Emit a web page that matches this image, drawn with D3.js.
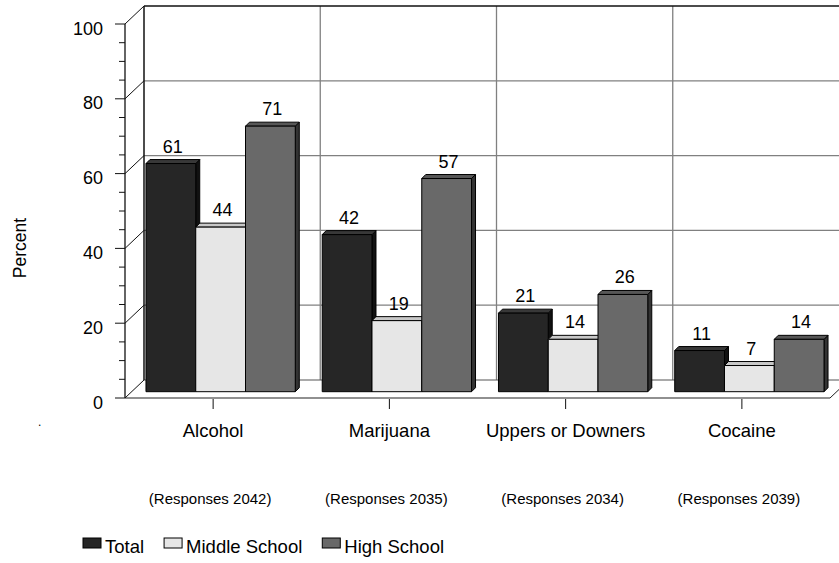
<!DOCTYPE html>
<html>
<head>
<meta charset="utf-8">
<script src="https://cdn.jsdelivr.net/npm/d3@7/dist/d3.min.js"></script>
<style>
  html, body { margin: 0; padding: 0; background: #fff; }
  svg { display: block; font-family: "Liberation Sans", Arial, sans-serif; }
</style>
</head>
<body>
<svg id="chart" width="839" height="563"></svg>
<script>
// Substance use by school level (percent)
const categories = ["Alcohol", "Marijuana", "Uppers or Downers", "Cocaine"];
const responses = ["(Responses 2042)", "(Responses 2035)", "(Responses 2034)", "(Responses 2039)"];
const seriesNames = ["Total", "Middle School", "High School"];
const totalValues = [61, 42, 21, 11];
const middleValues = [44, 19, 14, 7];
const highValues = [71, 57, 26, 14];
const yTicks = [0, 20, 40, 60, 80, 100];

const series = [
  { name: seriesNames[0], values: totalValues, front: "#262626", top: "#383838", side: "#111111" },
  { name: seriesNames[1], values: middleValues, front: "#e6e6e6", top: "#c8c8c8", side: "#9a9a9a" },
  { name: seriesNames[2], values: highValues, front: "#696969", top: "#575757", side: "#333333" }
];

const svg = d3.select("#chart");

// 3D frame geometry: front plane, wall depth, bar depth
const frontLeft = 125, frontRight = 830, floorY = 398, topY = 24;
const wallDX = 19, wallDY = -18;        // depth of the back wall
const barDX = 7.5, barDY = -6.3;        // bar front face offset into the box
const barDepthX = 4, barDepthY = -4;    // bar thickness

const y = d3.scaleLinear().domain([0, 100]).range([floorY, topY]);
const x0 = d3.scaleBand().domain(categories).range([frontLeft, frontRight])
  .paddingInner(0.153).paddingOuter(0.0765);
const x1 = d3.scaleBand().domain(seriesNames).range([0, x0.bandwidth()]);
const step = x0.step();
const catCenter = c => x0(c) + x0.bandwidth() / 2;

const grid = svg.append("g");
const backLeft = frontLeft + wallDX;
const backRight = frontRight + wallDX;

// Back wall horizontal gridlines
grid.selectAll("line.hgrid").data(yTicks.filter(v => v > 0 && v < 100)).join("line")
  .attr("x1", backLeft).attr("x2", backRight)
  .attr("y1", d => y(d) + wallDY).attr("y2", d => y(d) + wallDY)
  .attr("stroke", "#808080").attr("stroke-width", 1.3);

// Back wall vertical dividers between categories
grid.selectAll("line.vgrid").data(d3.range(1, categories.length)).join("line")
  .attr("x1", d => frontLeft + d * step + wallDX).attr("x2", d => frontLeft + d * step + wallDX)
  .attr("y1", y(100) + wallDY).attr("y2", y(0) + wallDY)
  .attr("stroke", "#808080").attr("stroke-width", 1.3);

// Floor back edge
grid.append("line")
  .attr("x1", backLeft).attr("x2", backRight)
  .attr("y1", y(0) + wallDY).attr("y2", y(0) + wallDY)
  .attr("stroke", "#555").attr("stroke-width", 1.2);

// Top edge and left edge of back wall
grid.append("line")
  .attr("x1", backLeft).attr("x2", backRight)
  .attr("y1", y(100) + wallDY).attr("y2", y(100) + wallDY)
  .attr("stroke", "#111").attr("stroke-width", 1.5);
grid.append("line")
  .attr("x1", backLeft).attr("x2", backLeft)
  .attr("y1", y(100) + wallDY).attr("y2", y(0) + wallDY)
  .attr("stroke", "#111").attr("stroke-width", 1.5);

// Side wall diagonals at each major tick
grid.selectAll("line.diag").data(yTicks).join("line")
  .attr("x1", frontLeft).attr("y1", d => y(d))
  .attr("x2", backLeft).attr("y2", d => y(d) + wallDY)
  .attr("stroke", "#111").attr("stroke-width", 1);

// Floor front edge and right diagonal
grid.append("line")
  .attr("x1", frontLeft).attr("x2", frontRight)
  .attr("y1", y(0)).attr("y2", y(0))
  .attr("stroke", "#222").attr("stroke-width", 1.2);
grid.append("line")
  .attr("x1", frontRight).attr("y1", y(0))
  .attr("x2", backRight).attr("y2", y(0) + wallDY)
  .attr("stroke", "#222").attr("stroke-width", 1);

// Front value axis with major and minor ticks
const axis = svg.append("g");
axis.append("line")
  .attr("x1", frontLeft).attr("x2", frontLeft)
  .attr("y1", y(100)).attr("y2", y(0))
  .attr("stroke", "#111").attr("stroke-width", 1.3);
axis.selectAll("line.tick").data(d3.range(0, 101, 5)).join("line")
  .attr("x1", d => frontLeft - (d % 20 === 0 ? 10 : 6)).attr("x2", frontLeft)
  .attr("y1", d => y(d)).attr("y2", d => y(d))
  .attr("stroke", "#111").attr("stroke-width", 1);
axis.selectAll("text").data(yTicks).join("text")
  .attr("x", 103).attr("y", d => y(d) + 10.5)
  .attr("text-anchor", "end").attr("font-size", 18).attr("fill", "#000")
  .text(d => d);

// Category ticks below the floor
svg.selectAll("line.ctick").data(categories).join("line")
  .attr("x1", catCenter).attr("x2", catCenter)
  .attr("y1", y(0) + 1).attr("y2", y(0) + 11)
  .attr("stroke", "#111").attr("stroke-width", 1);

// Bars as 3D boxes
const bars = svg.append("g");
categories.forEach((c, ci) => {
  series.forEach(s => {
    const v = s.values[ci];
    const xl = x0(c) + x1(s.name) + barDX;
    const xr = xl + x1.bandwidth();
    const yt = y(v) + barDY;
    const yb = y(0) + barDY;
    const g = bars.append("g").attr("stroke", "#000").attr("stroke-width", 1).attr("stroke-linejoin", "round");
    // right side face
    g.append("path")
      .attr("d", `M${xr},${yt}L${xr + barDepthX},${yt + barDepthY}L${xr + barDepthX},${yb + barDepthY}L${xr},${yb}Z`)
      .attr("fill", s.side);
    // top face
    g.append("path")
      .attr("d", `M${xl},${yt}L${xl + barDepthX},${yt + barDepthY}L${xr + barDepthX},${yt + barDepthY}L${xr},${yt}Z`)
      .attr("fill", s.top);
    // front face
    g.append("rect")
      .attr("x", xl).attr("y", yt)
      .attr("width", xr - xl).attr("height", yb - yt)
      .attr("fill", s.front);
    // value label
    svg.append("text")
      .attr("x", (xl + xr) / 2 + barDepthX / 2)
      .attr("y", yt + barDepthY - 7)
      .attr("text-anchor", "middle").attr("font-size", 18).attr("fill", "#000")
      .text(v);
  });
});

// Category labels and response counts
svg.selectAll("text.cat").data(categories).join("text")
  .attr("x", catCenter).attr("y", 437)
  .attr("text-anchor", "middle").attr("font-size", 18.5).attr("fill", "#000")
  .text(d => d);
svg.selectAll("text.resp").data(responses).join("text")
  .attr("x", (d, i) => catCenter(categories[i]) - 3).attr("y", 504)
  .attr("text-anchor", "middle").attr("font-size", 15).attr("fill", "#000")
  .text(d => d);

// Axis title
svg.append("text")
  .attr("transform", "translate(26,248) rotate(-90)")
  .attr("text-anchor", "middle").attr("font-size", 17.5).attr("fill", "#000")
  .text("Percent");

// Stray mark to the left of the floor
svg.append("text").attr("x", 38).attr("y", 426).attr("font-size", 12).text(".");

// Legend
const legend = svg.append("g");
let lx = 83;
series.forEach(s => {
  legend.append("rect")
    .attr("x", lx).attr("y", 538).attr("width", 18).attr("height", 10)
    .attr("fill", s.front).attr("stroke", "#000").attr("stroke-width", 1);
  const t = legend.append("text")
    .attr("x", lx + 22).attr("y", 553)
    .attr("font-size", 18.5).attr("fill", "#000")
    .text(s.name);
  lx += 22 + t.node().getComputedTextLength() + 20;
});
</script>
</body>
</html>
